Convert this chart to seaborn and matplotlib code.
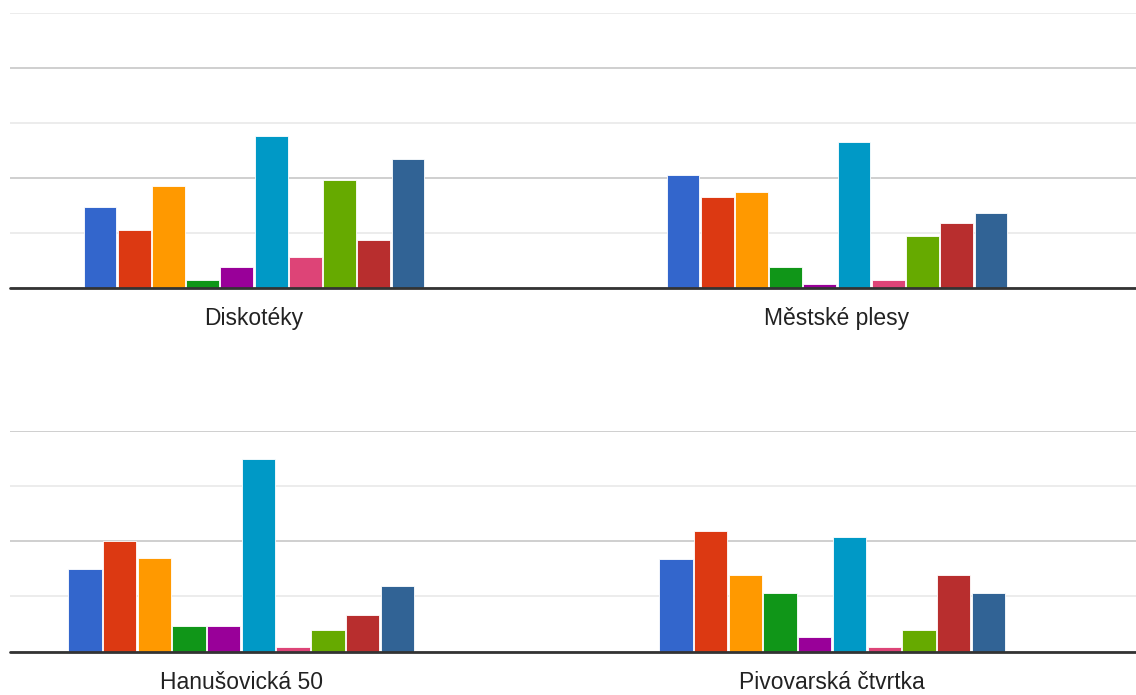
import pandas as pd
import matplotlib.pyplot as plt
import seaborn as sns

# kategorie ve dvou panelech
categories_top = ["Diskotéky", "Městské plesy"]
categories_bottom = ["Hanušovická 50", "Pivovarská čtvrtka"]

series = [f"Odpověď {i}" for i in range(1, 11)]

# hodnoty (jednotka = jedna mřížka)
diskoteky = [1.47, 1.06, 1.85, 0.15, 0.38, 2.77, 0.57, 1.97, 0.88, 2.35]
mestske_plesy = [2.05, 1.66, 1.74, 0.38, 0.07, 2.66, 0.15, 0.94, 1.18, 1.36]
hanusovicka = [1.50, 2.00, 1.69, 0.46, 0.46, 3.48, 0.08, 0.39, 0.66, 1.19]
pivovarska = [1.68, 2.18, 1.38, 1.07, 0.27, 2.08, 0.08, 0.39, 1.38, 1.07]

COLORS = ["#3366cc", "#dc3912", "#ff9900", "#109618", "#990099",
          "#0099c6", "#dd4477", "#66aa00", "#b82e2e", "#316395"]


def make_frame(categories, rows):
    records = []
    for cat, vals in zip(categories, rows):
        for s, v in zip(series, vals):
            records.append({"Kategorie": cat, "Série": s, "Hodnota": v})
    return pd.DataFrame(records)


def draw_panel(ax, df, ymax, xlim):
    sns.barplot(
        data=df,
        x="Kategorie",
        y="Hodnota",
        hue="Série",
        palette=COLORS,
        saturation=1,
        width=0.587,
        gap=0.04,
        edgecolor="white",
        linewidth=0.6,
        legend=False,
        ax=ax
    )
    ax.set_ylim(0, ymax)
    ax.set_xlim(*xlim)
    ax.set_yticks(range(0, ymax + 1, 2))
    ax.set_yticks(range(1, ymax + 1, 2), minor=True)
    ax.grid(which="major", axis="y", color="#cccccc", linewidth=1.3)
    ax.grid(which="minor", axis="y", color="#ebebeb", linewidth=1.3)
    ax.grid(axis="x", visible=False)
    ax.set_axisbelow(True)
    ax.axhline(0, color="#333333", linewidth=2, zorder=5, clip_on=False)
    for spine in ax.spines.values():
        spine.set_visible(False)
    ax.tick_params(axis="y", which="both", left=False, labelleft=False)
    ax.tick_params(axis="x", length=0, pad=14, labelsize=16.5, labelcolor="#222222")
    ax.set_xlabel("")
    ax.set_ylabel("")


if __name__ == "__main__":
    sns.set_style("white")
    plt.rcParams["font.family"] = ["Liberation Sans", "DejaVu Sans"]

    fig = plt.figure(figsize=(11.36, 6.95), dpi=100)

    top_df = make_frame(categories_top, [diskoteky, mestske_plesy])
    bottom_df = make_frame(categories_bottom, [hanusovicka, pivovarska])

    ax_top = fig.add_axes([0.0088, 0.5856, 0.9912, 0.3953])
    draw_panel(ax_top, top_df, 5, (-0.4185, 1.513))

    ax_bottom = fig.add_axes([0.0088, 0.0623, 0.9912, 0.3180])
    draw_panel(ax_bottom, bottom_df, 4, (-0.391, 1.514))

    fig.savefig("out.png", dpi=100)
    plt.close(fig)
